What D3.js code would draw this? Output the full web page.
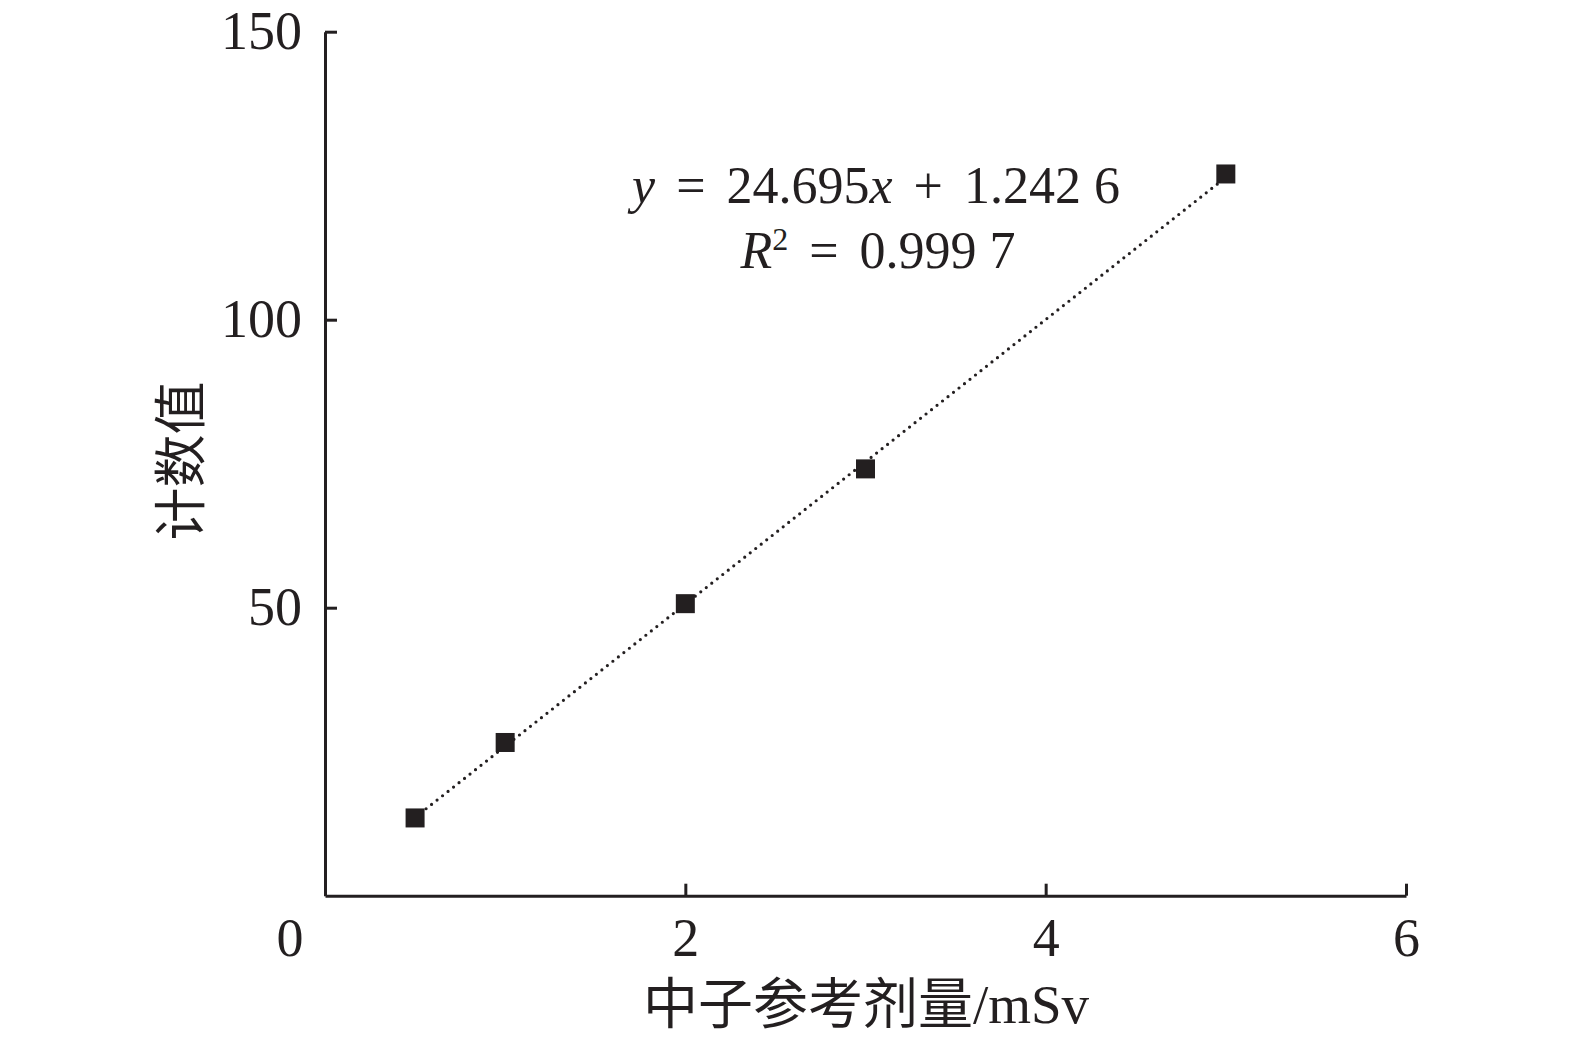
<!DOCTYPE html>
<html>
<head>
<meta charset="utf-8">
<script src="https://cdn.jsdelivr.net/npm/d3@7"></script>
<style>
  body { margin: 0; background: #fff; }
  text { font-family: "Liberation Serif", "Noto Sans CJK SC", serif; fill: #231f20; }
</style>
</head>
<body>
<div id="chart"></div>
<script>
var width = 1575, height = 1039;

// data
var doses = [0.5, 1, 2, 3, 5];          // 中子参考剂量/mSv
var counts = [13.5, 26.6, 50.7, 74.1, 125.3]; // 计数值
var xTicks = [2, 4, 6];
var yTicks = [50, 100, 150];
var slope = 24.695, intercept = 1.2426;

var ink = "#231f20";

var svg = d3.select("#chart").append("svg")
    .attr("width", width)
    .attr("height", height);

var x = d3.scaleLinear().domain([0, 6]).range([325, 1406]);
var y = d3.scaleLinear().domain([0, 150]).range([895.7, 31.7]);

// axes, ticks point inward
var xAxis = svg.append("g")
    .attr("transform", "translate(0," + y(0) + ")")
    .call(d3.axisBottom(x).tickValues(xTicks).tickFormat(d3.format("d"))
        .tickSizeInner(-12).tickSizeOuter(0).tickPadding(22));

var yAxis = svg.append("g")
    .attr("transform", "translate(" + x(0) + ",0)")
    .call(d3.axisLeft(y).tickValues(yTicks).tickSizeInner(-12).tickSizeOuter(0).tickPadding(23));

[xAxis, yAxis].forEach(function(g) {
    g.attr("font-family", null).attr("font-size", null);
    g.select(".domain").attr("stroke", ink).attr("stroke-width", 3);
    g.selectAll(".tick line").attr("stroke", ink).attr("stroke-width", 3);
    g.selectAll(".tick text").style("font-size", "54px").attr("fill", ink);
});

// origin label
svg.append("text")
    .attr("x", x(0) - 35)
    .attr("y", y(0) + 22)
    .attr("dy", "0.71em")
    .attr("text-anchor", "middle")
    .style("font-size", "54px")
    .text("0");

// trend line (dotted)
var xr = d3.extent(doses);
svg.append("line")
    .attr("x1", x(xr[0])).attr("y1", y(slope * xr[0] + intercept))
    .attr("x2", x(xr[1])).attr("y2", y(slope * xr[1] + intercept))
    .attr("stroke", ink)
    .attr("stroke-width", 3.2)
    .attr("stroke-linecap", "round")
    .attr("stroke-dasharray", "0 7");

// markers
var sz = 19;
svg.selectAll("rect.pt")
    .data(doses)
    .enter().append("rect")
    .attr("class", "pt")
    .attr("x", function(d) { return x(d) - sz / 2; })
    .attr("y", function(d, i) { return y(counts[i]) - sz / 2; })
    .attr("width", sz)
    .attr("height", sz)
    .attr("fill", ink);

// equation
var gap = 8;
var eq = svg.append("text")
    .attr("x", 876).attr("y", 203)
    .attr("text-anchor", "middle")
    .style("font-size", "52px");
eq.append("tspan").style("font-style", "italic").text("y");
eq.append("tspan").attr("dx", gap).text(" =");
eq.append("tspan").attr("dx", gap).text(" 24.695");
eq.append("tspan").style("font-style", "italic").text("x");
eq.append("tspan").attr("dx", gap).text(" +");
eq.append("tspan").attr("dx", gap).text(" 1.242 6");

var r2 = svg.append("text")
    .attr("x", 878).attr("y", 268)
    .attr("text-anchor", "middle")
    .style("font-size", "52px");
r2.append("tspan").style("font-style", "italic").text("R");
r2.append("tspan").attr("dy", -18).style("font-size", "32px").text("2");
r2.append("tspan").attr("dy", 18).attr("dx", gap).text(" =");
r2.append("tspan").attr("dx", gap).text(" 0.999 7");

// axis titles
svg.append("text")
    .attr("x", 866).attr("y", 1023)
    .attr("text-anchor", "middle")
    .style("font-size", "55px")
    .text("中子参考剂量/mSv");

svg.append("text")
    .attr("transform", "translate(200,461) rotate(-90)")
    .attr("text-anchor", "middle")
    .style("font-size", "53px")
    .text("计数值");
</script>
</body>
</html>
